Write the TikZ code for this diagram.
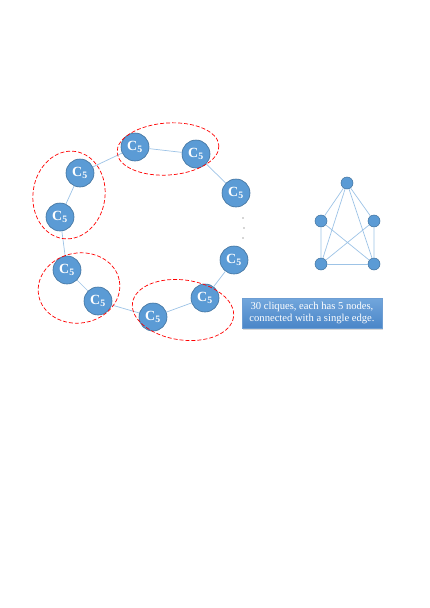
\documentclass[tikz,border=0pt]{standalone}
\usepackage{fontspec}
\setmainfont{Liberation Serif}
\usepackage{xcolor}
\usetikzlibrary{shadows}

\definecolor{nodeblue}{HTML}{5B9BD5}
\definecolor{nodeedge}{HTML}{41719C}
\definecolor{linkblue}{HTML}{9DC3E6}
\definecolor{boxtop}{HTML}{72A6DC}
\definecolor{boxbot}{HTML}{4A86C8}

\begin{document}
\begin{tikzpicture}[x=1pt, y=-1pt,
    clique/.style={circle, fill=nodeblue, draw=nodeedge, line width=0.6pt, minimum size=28pt, inner sep=0pt,
                   text=white, font=\fontsize{14}{14}\selectfont\bfseries},
    vert/.style={circle, fill=nodeblue, draw=nodeedge, line width=0.5pt, minimum size=12pt, inner sep=0pt},
    link/.style={draw=linkblue, line width=0.7pt},
    group/.style={draw=red, dash pattern=on 4pt off 2pt, line width=0.7pt}]
    \useasboundingbox (0,0) rectangle (430,608);

    % ring of cliques
    \node[clique] (c1) at (80,173) {C\textsubscript{5}};
    \node[clique] (c2) at (135,147) {C\textsubscript{5}};
    \node[clique] (c3) at (196,154) {C\textsubscript{5}};
    \node[clique] (c4) at (236,193) {C\textsubscript{5}};
    \node[clique] (c5) at (234,260) {C\textsubscript{5}};
    \node[clique] (c6) at (205,298) {C\textsubscript{5}};
    \node[clique] (c7) at (153,317) {C\textsubscript{5}};
    \node[clique] (c8) at (98,301) {C\textsubscript{5}};
    \node[clique] (c9) at (67,270) {C\textsubscript{5}};
    \node[clique] (c10) at (60,217) {C\textsubscript{5}};

    \draw[link] (c10) -- (c1);
    \draw[link] (c1) -- (c2);
    \draw[link] (c2) -- (c3);
    \draw[link] (c3) -- (c4);
    \draw[link] (c5) -- (c6);
    \draw[link] (c6) -- (c7);
    \draw[link] (c7) -- (c8);
    \draw[link] (c8) -- (c9);
    \draw[link] (c9) -- (c10);

    \fill[black!70] (243,218) circle (0.7) (244,228) circle (0.7) (243,238) circle (0.7);

    % dashed groups
    \draw[group, rotate around={4:(168,149)}] (168,149) ellipse (51 and 26);
    \draw[group, rotate around={-8:(69,195)}] (69,195) ellipse (36 and 44);
    \draw[group, rotate around={10:(79,288)}] (79,288) ellipse (41 and 35);
    \draw[group, rotate around={-8:(183,310)}] (183,310) ellipse (51 and 30);

    % one clique
    \node[vert] (k1) at (347,183) {};
    \node[vert] (k2) at (321,221) {};
    \node[vert] (k3) at (374,221) {};
    \node[vert] (k4) at (321,264) {};
    \node[vert] (k5) at (374,264) {};
    \draw[link] (k1) -- (k2) (k1) -- (k3) (k1) -- (k4) (k1) -- (k5);
    \draw[link] (k2) -- (k4) (k2) -- (k5) (k3) -- (k4) (k3) -- (k5);
    \draw[link] (k4) -- (k5);

    \node[top color=boxtop, bottom color=boxbot, draw=boxbot!80!white, line width=0.4pt,
          drop shadow={opacity=0.3, shadow xshift=1pt, shadow yshift=-1.5pt},
          minimum width=140pt, minimum height=30pt, inner sep=2pt, align=center, text=white,
          font=\fontsize{10.6}{11.8}\selectfont] (note) at (312,313)
        {30 cliques, each has 5 nodes,\\connected with a single edge.};
\end{tikzpicture}
\end{document}
